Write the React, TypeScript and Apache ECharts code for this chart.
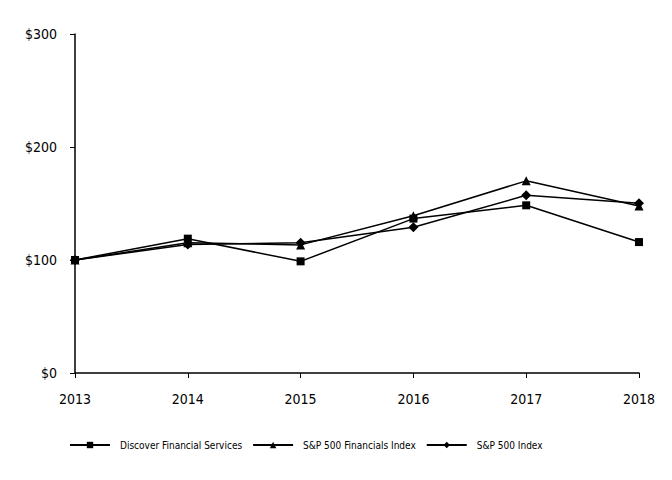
import React, { useEffect, useRef } from "react";
import * as echarts from "echarts";

const years = ["2013", "2014", "2015", "2016", "2017", "2018"];
const discover = [100, 118.9, 98.81, 136.62, 148.39, 115.86];
const spFinancials = [100, 115.18, 113.38, 139.17, 170.04, 147.88];
const sp500 = [100, 113.69, 115.26, 129.05, 157.22, 150.33];
const yTicks = [0, 100, 200, 300];

const FONT = "'DejaVu Sans Condensed', 'DejaVu Sans', sans-serif";

export default function App() {
  const ref = useRef<HTMLDivElement>(null);
  useEffect(() => {
    if (!ref.current) return;
    const chart = echarts.init(ref.current, undefined, { renderer: "svg" });
    const mk = (name: string, data: number[], symbol: string, size: number) => ({
      name,
      type: "line",
      data,
      symbol,
      symbolSize: size,
      showSymbol: true,
      lineStyle: { color: "#000", width: 1.5 },
      itemStyle: { color: "#000" },
    });
    chart.setOption({
      animation: false,
      backgroundColor: "#fff",
      textStyle: { fontFamily: FONT, color: "#000" },
      grid: { left: 75, right: 33, top: 34, bottom: 107 },
      legend: {
        left: 64,
        top: 435,
        itemWidth: 40,
        itemHeight: 8,
        itemGap: 10,
        textStyle: { fontFamily: FONT, fontSize: 10, color: "#000", padding: [0, 0, 0, 5] },
        data: ["Discover Financial Services", "S&P 500 Financials Index", "S&P 500 Index"],
      },
      xAxis: {
        type: "category",
        data: years,
        boundaryGap: false,
        axisLine: { lineStyle: { color: "#000", width: 1.5 } },
        axisTick: { show: true, inside: false, length: 5, lineStyle: { color: "#000" } },
        axisLabel: { color: "#000", fontSize: 14, margin: 19, fontFamily: FONT },
      },
      yAxis: {
        type: "value",
        min: 0,
        max: 300,
        interval: 100,
        splitLine: { show: false },
        axisLine: { show: true, lineStyle: { color: "#000", width: 1.5 } },
        axisTick: { show: true, length: 5, lineStyle: { color: "#000" } },
        axisLabel: {
          color: "#000",
          fontSize: 14,
          margin: 18,
          fontFamily: FONT,
          formatter: (v: number) => (yTicks.includes(v) ? "$" + v : ""),
        },
      },
      series: [
        mk("Discover Financial Services", discover, "rect", 8),
        mk("S&P 500 Financials Index", spFinancials, "triangle", 9),
        mk("S&P 500 Index", sp500, "diamond", 10),
      ],
    });
    return () => chart.dispose();
  }, []);
  return <div ref={ref} style={{ width: 672, height: 480, position: "absolute", left: 0, top: 0 }} />;
}
